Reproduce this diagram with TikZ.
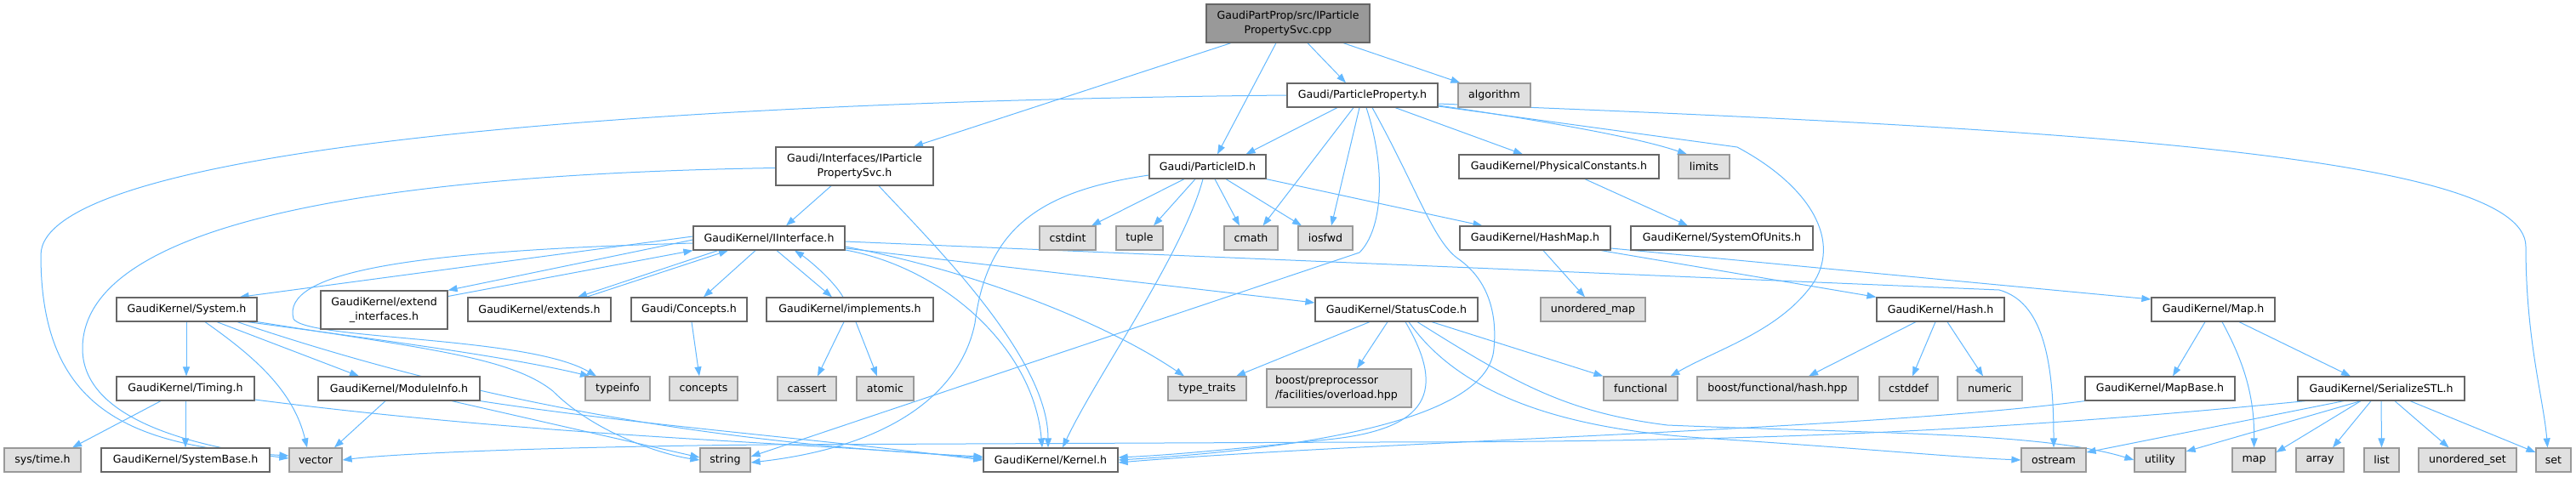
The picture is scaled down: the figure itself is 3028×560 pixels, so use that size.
\documentclass[tikz,border=0pt]{standalone}
\usepackage{fontspec}
\setmainfont{DejaVu Sans}
\usetikzlibrary{arrows.meta,calc,backgrounds}
\definecolor{edgec}{HTML}{63B8FF}
\definecolor{bdr}{HTML}{666666}
\definecolor{sysbdr}{HTML}{999999}
\definecolor{sysfill}{HTML}{E0E0E0}
\definecolor{rootfill}{HTML}{999999}
\newcommand\nodefont{\fontsize{12.6}{16.5}\selectfont}
\tikzset{
  hdr/.style={draw=bdr, fill=white, line width=1.2pt, minimum height=28pt, inner sep=0pt, align=center, font=\nodefont, text=black},
  sys/.style={hdr, draw=sysbdr, fill=sysfill},
  rootn/.style={hdr, draw=bdr, fill=rootfill},
  conn/.style={draw=edgec, line width=1pt, -{Triangle[length=11pt,width=8pt]}}
}
\begin{document}
\begin{tikzpicture}[x=1pt,y=-1pt]
\useasboundingbox (0,0) rectangle (3028,560);
% nodes
\node[rootn, minimum width=192pt, minimum height=45pt] (root) at (1514,27.5) {GaudiPartProp/src/IParticle\\PropertySvc.cpp};
\node[hdr, minimum width=185pt, minimum height=45pt] (ipps) at (1004.5,195.5) {Gaudi/Interfaces/IParticle\\PropertySvc.h};
\node[hdr, minimum width=177pt] (pp) at (1601.5,112) {Gaudi/ParticleProperty.h};
\node[sys, minimum width=85pt] (algorithm) at (1756.5,112) {algorithm};
\node[hdr, minimum width=137pt] (pid) at (1419.5,196) {Gaudi/ParticleID.h};
\node[hdr, minimum width=235pt] (physc) at (1832.5,196) {GaudiKernel/PhysicalConstants.h};
\node[sys, minimum width=60pt] (limits) at (2003,196) {limits};
\node[hdr, minimum width=178pt] (iint) at (904,280) {GaudiKernel/IInterface.h};
\node[sys, minimum width=66pt] (cstdint) at (1255,280) {cstdint};
\node[sys, minimum width=55pt] (tuple) at (1339.5,280) {tuple};
\node[sys, minimum width=63pt] (cmath) at (1470.5,280) {cmath};
\node[sys, minimum width=64pt] (iosfwd) at (1558,280) {iosfwd};
\node[hdr, minimum width=177pt] (hashmap) at (1804.5,280) {GaudiKernel/HashMap.h};
\node[hdr, minimum width=214pt] (units) at (2024,280) {GaudiKernel/SystemOfUnits.h};
\node[hdr, minimum width=165pt] (system) at (219.5,364) {GaudiKernel/System.h};
\node[hdr, minimum width=149pt, minimum height=45pt] (extif) at (451.5,364.5) {GaudiKernel/extend\\\_interfaces.h};
\node[hdr, minimum width=168pt] (extends) at (634,364) {GaudiKernel/extends.h};
\node[hdr, minimum width=136pt] (concepth) at (810,364) {Gaudi/Concepts.h};
\node[hdr, minimum width=196pt] (impl) at (999,364) {GaudiKernel/implements.h};
\node[hdr, minimum width=191pt] (status) at (1641.5,364) {GaudiKernel/StatusCode.h};
\node[sys, minimum width=123pt] (umap) at (1872.5,364) {unordered\_map};
\node[hdr, minimum width=150pt] (hash) at (2281,364) {GaudiKernel/Hash.h};
\node[hdr, minimum width=145pt] (mapH) at (2601.5,364) {GaudiKernel/Map.h};
\node[hdr, minimum width=162pt] (timing) at (218,457) {GaudiKernel/Timing.h};
\node[hdr, minimum width=190pt] (modinfo) at (469,457) {GaudiKernel/ModuleInfo.h};
\node[sys, minimum width=76pt] (typeinfo) at (726,457) {typeinfo};
\node[sys, minimum width=80pt] (concepts) at (827,457) {concepts};
\node[sys, minimum width=69pt] (cassert) at (948.5,457) {cassert};
\node[sys, minimum width=67pt] (atomic) at (1040.5,457) {atomic};
\node[sys, minimum width=92pt] (ttraits) at (1419,457) {type\_traits};
\node[sys, minimum width=170pt, minimum height=45pt, align=left, text width=150pt] (boostpp) at (1574,456.5) {boost/preprocessor\\/facilities/overload.hpp};
\node[sys, minimum width=87pt] (functional) at (1928.5,457) {functional};
\node[sys, minimum width=189pt] (hashhpp) at (2089.5,457) {boost/functional/hash.hpp};
\node[sys, minimum width=69pt] (cstddef) at (2243.5,457) {cstddef};
\node[sys, minimum width=76pt] (numeric) at (2339,457) {numeric};
\node[hdr, minimum width=176pt] (mapbase) at (2539,457) {GaudiKernel/MapBase.h};
\node[hdr, minimum width=196pt] (serial) at (2799,457) {GaudiKernel/SerializeSTL.h};
\node[sys, minimum width=90pt] (systime) at (50,541) {sys/time.h};
\node[hdr, minimum width=198pt] (sysbase) at (218,541) {GaudiKernel/SystemBase.h};
\node[sys, minimum width=62pt] (vector) at (371,541) {vector};
\node[sys, minimum width=59pt] (string) at (852.5,541) {string};
\node[hdr, minimum width=158pt] (kernel) at (1235,541) {GaudiKernel/Kernel.h};
\node[sys, minimum width=76pt] (ostream) at (2414,541) {ostream};
\node[sys, minimum width=60pt] (utility) at (2539,541) {utility};
\node[sys, minimum width=51pt] (map) at (2649.5,541) {map};
\node[sys, minimum width=56pt] (array) at (2727,541) {array};
\node[sys, minimum width=41pt] (list) at (2799.5,541) {list};
\node[sys, minimum width=115pt] (uset) at (2900.5,541) {unordered\_set};
\node[sys, minimum width=41pt] (set) at (3001.5,541) {set};
% edges
\begin{scope}[on background layer]
% root
\draw[conn] ($(root.south)+(-67,0)$) -- ($(ipps.north)+(69.5,0)$);
\draw[conn] ($(root.south)+(-14,0)$) -- ($(pid.north)+(11.5,0)$);
\draw[conn] ($(root.south)+(23,0)$) -- ($(pp.north)+(-19.5,0)$);
\draw[conn] ($(root.south)+(65,0)$) -- ($(algorithm.north west)+(3,0)$);
% IParticlePropertySvc.h
\draw[conn] ($(ipps.south)+(-27.5,0)$) -- ($(iint.north)+(20,0)$);
\draw[conn] ($(ipps.south)+(28.5,0)$) .. controls (1095,285) and (1232,420) .. ($(kernel.north)+(-3,0)$);
\draw[conn] ($(ipps.west)+(0,2)$) .. controls (450,205) and (97,260) .. (97,410) .. controls (97,500) and (250,528) .. ($(vector.west)+(0,-2)$);
% ParticleProperty.h
\draw[conn] ($(pp.south)+(-29.5,0)$) -- ($(pid.north)+(45,0)$);
\draw[conn] ($(pp.south)+(-10.5,0)$) -- ($(cmath.north)+(14,0)$);
\draw[conn] ($(pp.south)+(-3.5,0)$) -- ($(iosfwd.north)+(7,0)$);
\draw[conn] ($(pp.south)+(4.5,0)$) .. controls (1630,200) and (1625,270) .. (1598,297) -- ($(string.east)+(0,-4)$);
\draw[conn] ($(pp.south)+(11.5,0)$) .. controls (1665,220) and (1685,285) .. (1715,305) .. controls (1750,330) and (1760,370) .. (1756,410) .. controls (1750,500) and (1500,530) .. (kernel.east);
\draw[conn] ($(pp.south)+(38.5,0)$) -- ($(physc.north)+(-42.5,0)$);
\draw[conn] ($(pp.east)+(0,12)$) .. controls (1800,140) and (1920,160) .. ($(limits.north)+(-20,0)$);
\draw[conn] ($(pp.east)+(0,13)$) -- (2042,173) .. controls (2130,220) and (2165,285) .. (2130,335) .. controls (2090,390) and (2020,410) .. ($(functional.north)+(35,0)$);
\draw[conn] ($(pp.east)+(0,10)$) .. controls (2400,150) and (2969,180) .. (2969,290) .. controls (2969,400) and (2990,470) .. ($(set.north)+(-7,0)$);
\draw[conn] (pp.west) .. controls (700,120) and (48,180) .. (48,300) .. controls (48,480) and (150,525) .. ($(vector.west)+(0,-5)$);
% ParticleID.h
\draw[conn] ($(pid.south)+(-27.5,0)$) -- ($(cstdint.north)+(28,0)$);
\draw[conn] ($(pid.south)+(-14.5,0)$) -- ($(tuple.north)+(16.5,0)$);
\draw[conn] ($(pid.south)+(8.5,0)$) -- ($(cmath.north)+(-13.5,0)$);
\draw[conn] ($(pid.south)+(21.5,0)$) -- ($(iosfwd.north)+(-28,0)$);
\draw[conn] (pid.south east) -- ($(hashmap.north)+(-62,0)$);
\draw[conn] ($(pid.south)+(-5.5,0)$) .. controls (1390,300) and (1290,440) .. ($(kernel.north)+(14,0)$);
\draw[conn] ($(pid.west)+(0,10)$) .. controls (1220,225) and (1160,270) .. (1146,380) .. controls (1130,460) and (1050,525) .. ($(string.east)+(0,3)$);
% PhysicalConstants.h
\draw[conn] ($(physc.south)+(30.5,0)$) -- ($(units.north)+(-40,0)$);
% HashMap.h
\draw[conn] ($(hashmap.south)+(9.5,0)$) -- ($(umap.north)+(-9.5,0)$);
\draw[conn] ($(hashmap.south)+(77.5,0)$) -- (hash.north west);
\draw[conn] ($(hashmap.east)+(0,12)$) -- ($(mapH.west)+(0,-12)$);
% IInterface.h
\draw[conn] ($(iint.west)+(0,-2)$) -- ($(system.north east)+(-21,0)$);
\draw[conn] ($(iint.west)+(0,2)$) -- (extif.north east);
\draw[conn] ($(extif.east)+(0,-16)$) -- (iint.south west);
\draw[conn] ($(iint.south)+(-60,0)$) -- ($(extends.north)+(45,0)$);
\draw[conn] ($(extends.north)+(55,0)$) -- ($(iint.south)+(-48,0)$);
\draw[conn] ($(iint.south)+(-16,0)$) -- ($(concepth.north)+(17,0)$);
\draw[conn] ($(iint.south)+(9,0)$) -- ($(impl.north)+(-21,0)$);
\draw[conn] ($(impl.north)+(-8,0)$) .. controls (980,330) and (950,305) .. ($(iint.south)+(30,0)$);
\draw[conn] ($(iint.east)+(0,14)$) .. controls (1110,315) and (1215,410) .. ($(kernel.north)+(-10,0)$);
\draw[conn] ($(iint.east)+(0,12)$) -- ($(status.west)+(0,-8)$);
\draw[conn] ($(iint.east)+(0,10)$) .. controls (1150,320) and (1300,380) .. ($(ttraits.north)+(-27,0)$);
\draw[conn] ($(iint.east)+(0,4)$) -- (2350,341) .. controls (2400,355) and (2414,420) .. (ostream.north);
\draw[conn] ($(iint.west)+(0,6)$) .. controls (480,295) and (330,320) .. (345,375) .. controls (360,400) and (620,395) .. ($(typeinfo.north)+(-25,0)$);
% System.h
\draw[conn] ($(system.south)+(-0.5,0)$) -- ($(timing.north)+(1,0)$);
\draw[conn] ($(system.south)+(35.5,0)$) -- ($(modinfo.north)+(-47,0)$);
\draw[conn] ($(system.south)+(21.5,0)$) .. controls (300,420) and (345,460) .. ($(vector.north)+(-10,0)$);
\draw[conn] ($(system.south)+(71.5,0)$) .. controls (450,400) and (600,420) .. ($(typeinfo.north)+(-33,0)$);
\draw[conn] (system.south east) .. controls (500,410) and (600,420) .. (650,460) .. controls (700,510) and (780,535) .. (string.west);
\draw[conn] ($(system.south)+(59.5,0)$) .. controls (520,460) and (800,520) .. ($(kernel.west)+(0,-4)$);
% Timing.h
\draw[conn] ($(timing.south)+(-29,0)$) -- ($(systime.north)+(35,0)$);
\draw[conn] (timing.south) -- (sysbase.north);
\draw[conn] ($(timing.east)+(0,13)$) .. controls (650,515) and (950,520) .. ($(kernel.west)+(0,-2)$);
% ModuleInfo.h
\draw[conn] ($(modinfo.south)+(-16,0)$) -- ($(vector.north)+(22,0)$);
\draw[conn] ($(modinfo.south)+(62,0)$) -- ($(string.west)+(0,-3)$);
\draw[conn] (modinfo.south east) .. controls (750,500) and (950,515) .. (kernel.west);
% Concepts / implements
\draw[conn] ($(concepth.south)+(3,0)$) -- ($(concepts.north)+(-5,0)$);
\draw[conn] ($(impl.south)+(-7,0)$) -- ($(cassert.north)+(12.5,0)$);
\draw[conn] ($(impl.south)+(7,0)$) -- ($(atomic.north)+(-9.5,0)$);
% StatusCode.h
\draw[conn] ($(status.south)+(-31.5,0)$) -- ($(ttraits.north)+(34,0)$);
\draw[conn] ($(status.south)+(-10.5,0)$) -- ($(boostpp.north)+(21,0)$);
\draw[conn] ($(status.south)+(10.5,0)$) .. controls (1700,460) and (1680,505) .. (1560,517) .. controls (1450,528) and (1380,535) .. ($(kernel.east)+(0,-3)$);
\draw[conn] ($(status.south)+(14.5,0)$) .. controls (1720,470) and (1850,505) .. (2000,515) .. controls (2200,528) and (2300,538) .. (ostream.west);
\draw[conn] ($(status.south)+(24.5,0)$) .. controls (1780,450) and (1840,485) .. (1960,500) .. controls (2200,510) and (2400,508) .. (utility.west);
\draw[conn] ($(status.south)+(41.5,0)$) -- (functional.north west);
% Hash.h
\draw[conn] ($(hash.south)+(-29,0)$) -- ($(hashhpp.north)+(36.5,0)$);
\draw[conn] ($(hash.south)+(-6,0)$) -- ($(cstddef.north)+(4.5,0)$);
\draw[conn] ($(hash.south)+(8,0)$) -- ($(numeric.north)+(-8,0)$);
% Map.h
\draw[conn] ($(mapH.south)+(-9.5,0)$) -- ($(mapbase.north)+(15,0)$);
\draw[conn] ($(mapH.south)+(10.5,0)$) .. controls (2640,430) and (2650,470) .. (map.north);
\draw[conn] ($(mapH.south)+(30.5,0)$) -- ($(serial.north)+(-36,0)$);
% MapBase.h
\draw[conn] (mapbase.south west) .. controls (2200,505) and (1600,520) .. ($(kernel.east)+(0,3)$);
% SerializeSTL.h
\draw[conn] ($(serial.south)+(-89,0)$) .. controls (2300,512) and (2000,520) .. (1600,520) -- (900,523) .. controls (600,526) and (450,535) .. (vector.east);
\draw[conn] ($(serial.south)+(-44,0)$) -- ($(ostream.east)+(0,-9)$);
\draw[conn] ($(serial.south)+(-24,0)$) -- ($(utility.east)+(0,-10)$);
\draw[conn] ($(serial.south)+(-24,0)$) -- ($(map.east)+(0,-9)$);
\draw[conn] ($(serial.south)+(-12,0)$) -- ($(array.north)+(15,0)$);
\draw[conn] (serial.south) -- (list.north);
\draw[conn] ($(serial.south)+(16,0)$) -- ($(uset.north)+(-22,0)$);
\draw[conn] ($(serial.south)+(34,0)$) -- ($(set.west)+(0,-9)$);
\end{scope}
\end{tikzpicture}
\end{document}
